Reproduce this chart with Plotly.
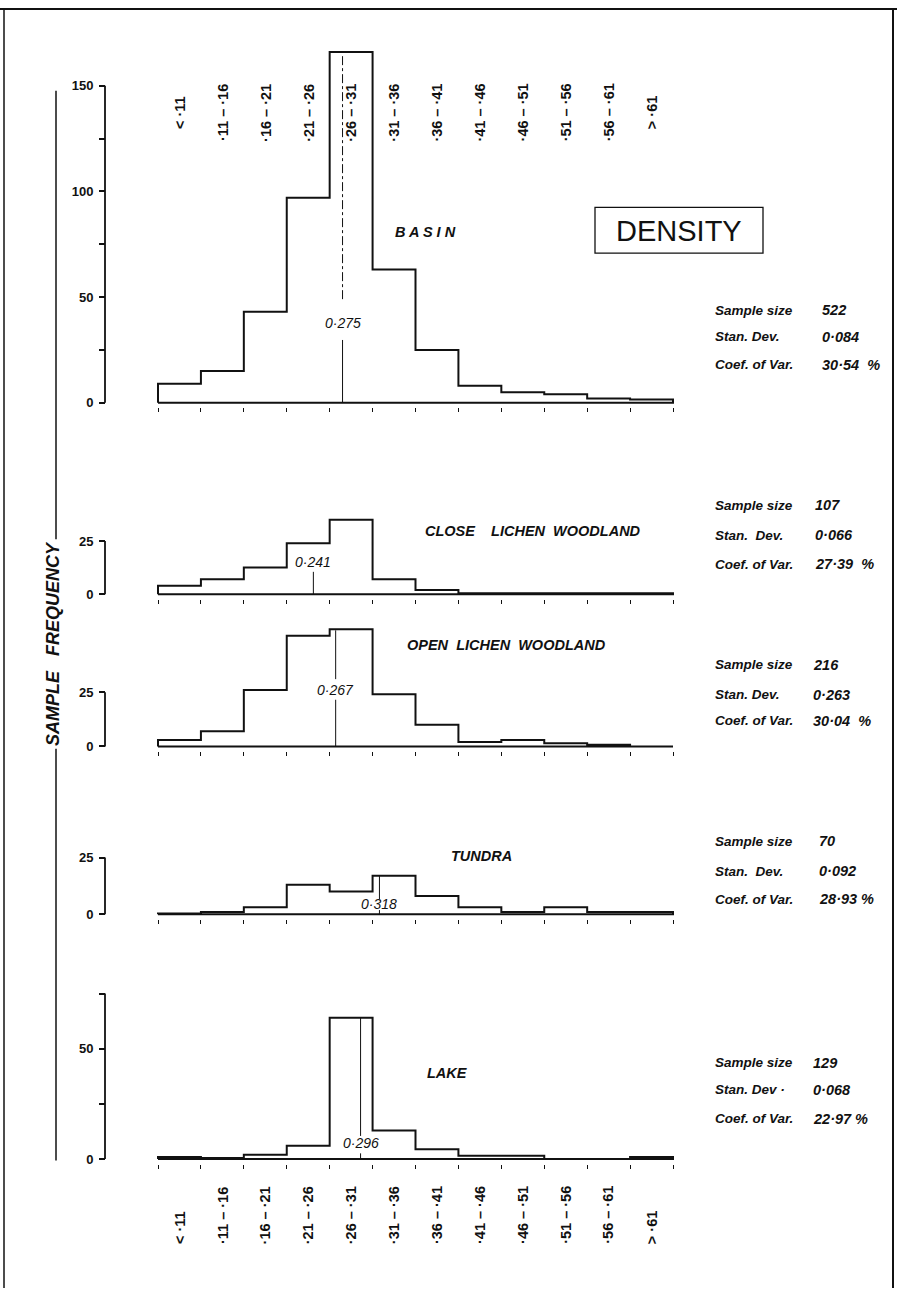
import plotly.graph_objects as go

W, H = 897, 1291

# ---------------- data ----------------
bin_edges = [0.06, 0.11, 0.16, 0.21, 0.26, 0.31, 0.36, 0.41, 0.46, 0.51, 0.56, 0.61, 0.66]
bin_labels = ["< ·11", "·11 – ·16", "·16 – ·21", "·21 – ·26", "·26 – ·31", "·31 – ·36",
              "·36 – ·41", "·41 – ·46", "·46 – ·51", "·51 – ·56", "·56 – ·61", "> ·61"]

panel_names = ["B A S I N",
               "CLOSE\u00a0\u00a0\u00a0\u00a0LICHEN\u00a0\u00a0WOODLAND",
               "OPEN\u00a0\u00a0LICHEN\u00a0\u00a0WOODLAND",
               "TUNDRA",
               "LAKE"]

basin_freq = [9, 15, 43, 97, 166, 63, 25, 8, 5, 4, 2, 1.5]
close_freq = [4, 7, 12.5, 24, 35, 7, 2, 0.4, 0.4, 0.4, 0.4, 0.4]
open_freq = [3, 7, 26, 51, 54, 24, 10, 2, 3, 1.5, 0.8, 0]
tundra_freq = [0.3, 1, 3, 13, 10, 17, 8, 3, 1, 3, 1, 1]
lake_freq = [1, 0.5, 2, 6, 64, 13, 4.5, 1.5, 1.5, 0, 0, 1]

mean_density = [0.275, 0.241, 0.267, 0.318, 0.296]
mean_text = ["0·275", "0·241", "0·267", "0·318", "0·296"]

sample_size = ["522", "107", "216", "70", "129"]
stan_dev = ["0·084", "0·066", "0·263", "0·092", "0·068"]
coef_var = ["30·54\u00a0\u00a0%", "27·39\u00a0\u00a0%", "30·04\u00a0\u00a0%", "28·93\u00a0%", "22·97\u00a0%"]
stan_dev_label = ["Stan. Dev.", "Stan.\u00a0 Dev.", "Stan. Dev.", "Stan.\u00a0 Dev.", "Stan. Dev ·"]

y_tick_vals = [[0, 25, 50, 75, 100, 125, 150], [0, 25], [0, 25], [0, 25], [0, 25, 50, 75]]
y_tick_text = [["0", "", "50", "", "100", "", "150"], ["0", "25"], ["0", "25"], ["0", "25"],
               ["0", "", "50", ""]]

freqs = [basin_freq, close_freq, open_freq, tundra_freq, lake_freq]

# ---------------- geometry (pixels) ----------------
# zero line pixel, px per unit, top of y range, top of drawn axis line
geom = [(403.0, 2.12, 172, 150),
        (595.0, 2.132, 38, 25),
        (747.7, 2.176, 58, 25),
        (916.0, 2.27, 28, 25),
        (1161.7, 2.214, 76, 75)]
# mean line segments (in data units) per panel: (top, bottom, dash)
mean_segs = [[(164, 47.6, "dashdot"), (29.7, 0, "solid")],
             [(10.5, 0, "solid")],
             [(53.5, 31, "solid"), (21.5, 0, "solid")],
             [(17, 6.6, "solid"), (1.8, 0, "solid")],
             [(64, 10.5, "solid"), (2.6, 0, "solid")]]
mean_label_py = [323, 563, 691, 906, 1146]
title_pos = [(425, 232), (533, 532), (507, 646), (481, 858), (447, 1075)]
stat_rows = [(310, 337, 365), (506, 536, 565), (666, 696, 722), (843, 873, 901), (1065, 1092, 1121)]
stat_val_x = [820, 813, 811, 817, 811]

X0PX, PXU = 158.0, 858.33
xr = [0.06 - X0PX / PXU, 0.06 + (W - X0PX) / PXU]
AXIS_X = 105 / W


def py(v):
    return 1 - v / H


def px(v):
    return v / W


INK = "#111111"
FONT = "Liberation Sans, Arial, sans-serif"

fig = go.Figure()
layout = dict(width=W, height=H, autosize=False, margin=dict(l=0, r=0, t=0, b=0),
              paper_bgcolor="white", plot_bgcolor="white", showlegend=False)
shapes = []
annotations = []

for i, (vals, (z, k, rtop, atop)) in enumerate(zip(freqs, geom)):
    n = i + 1
    xa = "x" if n == 1 else f"x{n}"
    ya = "y" if n == 1 else f"y{n}"
    rlo = -4.5 / k
    dom = [py(z - rlo * k), py(z - rtop * k)]
    layout["yaxis" if n == 1 else f"yaxis{n}"] = dict(
        domain=dom, range=[rlo, rtop], anchor="free", position=AXIS_X,
        tickvals=y_tick_vals[i], ticktext=y_tick_text[i], ticks="outside", ticklen=6,
        tickwidth=1.5, tickcolor=INK, showline=False, showgrid=False, zeroline=False,
        ticklabelstandoff=3, tickfont=dict(family=FONT, size=13, color=INK, weight="bold"),
        fixedrange=True)
    layout["xaxis" if n == 1 else f"xaxis{n}"] = dict(
        domain=[0, 1], range=xr, anchor=ya, tickvals=bin_edges, showticklabels=False,
        ticks="outside", ticklen=4, tickwidth=1.3, tickcolor=INK, showline=False,
        showgrid=False, zeroline=False, fixedrange=True)

    # histogram outline (step) built from the bin values
    xs, ys = [bin_edges[0]], [0]
    for j, v in enumerate(vals):
        xs += [bin_edges[j], bin_edges[j + 1]]
        ys += [v, v]
    xs += [bin_edges[-1], bin_edges[0]]
    ys += [0, 0]
    fig.add_trace(go.Scatter(x=xs, y=ys, mode="lines", xaxis=xa, yaxis=ya,
                             line=dict(color=INK, width=2), hoverinfo="skip"))

    # mean line
    for (t, b, d) in mean_segs[i]:
        fig.add_trace(go.Scatter(x=[mean_density[i], mean_density[i]], y=[t, b], mode="lines",
                                 xaxis=xa, yaxis=ya,
                                 line=dict(color=INK, width=1, dash=d), hoverinfo="skip"))
    annotations.append(dict(xref=xa, yref="paper", x=mean_density[i], y=py(mean_label_py[i]),
                            text=mean_text[i], showarrow=False, xanchor="center", yanchor="middle",
                            font=dict(family=FONT, size=14, color=INK, style="italic")))

    # y axis line from 0 to its top
    shapes.append(dict(type="line", xref="paper", yref=ya, x0=AXIS_X, x1=AXIS_X, y0=0, y1=atop,
                       line=dict(color=INK, width=1.8)))

    # panel title
    tx, ty = title_pos[i]
    annotations.append(dict(xref="paper", yref="paper", x=px(tx), y=py(ty), text=panel_names[i],
                            showarrow=False, xanchor="center", yanchor="middle",
                            font=dict(family=FONT, size=14.5, color=INK, style="italic",
                                      weight="bold")))

    # statistics
    r1, r2, r3 = stat_rows[i]
    for lab, val, yy in (("Sample size", sample_size[i], r1), (stan_dev_label[i], stan_dev[i], r2),
                         ("Coef. of Var.", coef_var[i], r3)):
        annotations.append(dict(xref="paper", yref="paper", x=px(713), y=py(yy), text=lab,
                                showarrow=False, xanchor="left", yanchor="middle",
                                font=dict(family=FONT, size=13.5, color=INK, style="italic",
                                          weight="bold")))
        annotations.append(dict(xref="paper", yref="paper", x=px(stat_val_x[i]), y=py(yy),
                                text=val, showarrow=False, xanchor="left", yanchor="middle",
                                font=dict(family=FONT, size=14.5, color=INK, style="italic",
                                          weight="bold")))

# bin labels, top of basin and bottom of lake
centers = [(bin_edges[j] + bin_edges[j + 1]) / 2 for j in range(len(bin_labels))]
for c, lab in zip(centers, bin_labels):
    annotations.append(dict(xref="x", yref="paper", x=c, y=py(112), text=lab, showarrow=False,
                            textangle=-90, xanchor="center", yanchor="middle",
                            font=dict(family=FONT, size=14.5, color=INK, weight="bold")))
    annotations.append(dict(xref="x5", yref="paper", x=c, y=py(1249), text=lab, showarrow=False,
                            textangle=-90, xanchor="center", yanchor="bottom",
                            font=dict(family=FONT, size=14.5, color=INK, weight="bold")))

# DENSITY box
shapes.append(dict(type="rect", xref="paper", yref="paper", x0=px(595), x1=px(763),
                   y0=py(253), y1=py(207), line=dict(color=INK, width=1.3)))
annotations.append(dict(xref="paper", yref="paper", x=px(679), y=py(231), text="DENSITY",
                        showarrow=False, xanchor="center", yanchor="middle",
                        font=dict(family=FONT, size=29, color=INK)))

# shared y label with long rules
annotations.append(dict(xref="paper", yref="paper", x=px(53), y=py(645),
                        text="SAMPLE\u00a0\u00a0\u00a0FREQUENCY", showarrow=False, textangle=-90,
                        xanchor="center", yanchor="middle",
                        font=dict(family=FONT, size=18, color=INK, style="italic", weight="bold")))
for (a, b) in ((90, 540), (750, 1163)):
    shapes.append(dict(type="line", xref="paper", yref="paper", x0=px(56), x1=px(56),
                       y0=py(a), y1=py(b), line=dict(color=INK, width=1.5)))

# page frame
shapes.append(dict(type="line", xref="paper", yref="paper", x0=0, x1=1, y0=py(8), y1=py(8),
                   line=dict(color=INK, width=2)))
shapes.append(dict(type="line", xref="paper", yref="paper", x0=px(893), x1=px(893), y0=py(8),
                   y1=0, line=dict(color=INK, width=2)))
shapes.append(dict(type="line", xref="paper", yref="paper", x0=px(4), x1=px(4), y0=py(8),
                   y1=0, line=dict(color=INK, width=1.5)))

layout["shapes"] = shapes
layout["annotations"] = annotations
fig.update_layout(**layout)

fig.write_html("out.html", config={"displayModeBar": False},
               post_script="document.body.style.margin='0';")
